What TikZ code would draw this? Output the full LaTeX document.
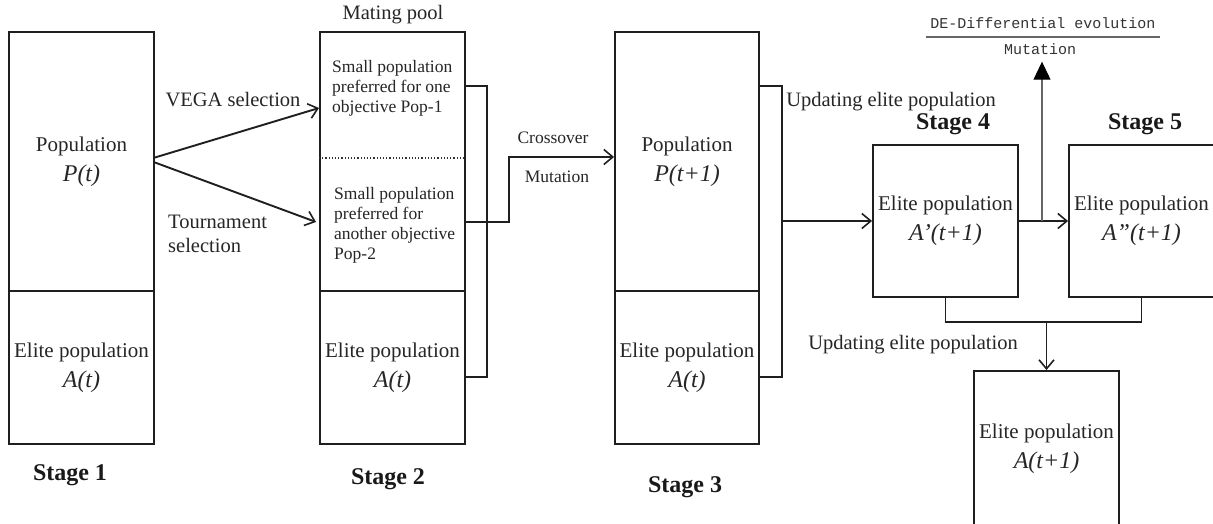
\documentclass[tikz,border=0pt]{standalone}
\usepackage{fontspec}
\setmainfont{Liberation Serif}
\newfontfamily\demono{Liberation Mono}
\usetikzlibrary{arrows.meta}
\newcommand\itpop[1]{{\fontsize{24}{24}\selectfont\itshape #1}}
\begin{document}
\begin{tikzpicture}[x=1pt,y=1pt,
  ink/.style={draw=black!88},
  box/.style={ink, line width=1.9pt, inner sep=0pt, align=center, text=black!85,
    font=\fontsize{21}{26}\selectfont},
  ln/.style={ink, line width=1.9pt},
  arr/.style={ink, line width=1.9pt, -{Straight Barb[length=9pt,width=15pt,line width=1.6pt]}},
  lab/.style={inner sep=0pt, text=black!85, font=\fontsize{20.5}{24}\selectfont},
  small/.style={inner sep=0pt, text=black!85, align=left, font=\fontsize{17.5}{20}\selectfont},
  stg/.style={inner sep=0pt, text=black!90, font=\bfseries\fontsize{24}{28}\selectfont},
  mono/.style={inner sep=0pt, text=black!80, font=\demono\fontsize{15}{18}\selectfont}]
\path[use as bounding box] (0,0) rectangle (1213,-524);
\clip (0,0) rectangle (1213,-524);
\fill[white] (0,0) rectangle (1213,-524);

% Stage 1
\node[box, minimum width=145, minimum height=259] (s1p) at (81.5,-161.5) {Population\\[4pt]\itpop{P(t)}};
\node[box, minimum width=145, minimum height=153] (s1e) at (81.5,-367.5) {Elite population\\[4pt]\itpop{A(t)}};
\node[stg] (st1) at (70,-475) {Stage 1};

% Stage 2
\node[lab] (mp) at (393,-15) {Mating pool};
\node[box, minimum width=145, minimum height=259] (s2p) at (392.5,-161.5) {};
\node[box, minimum width=145, minimum height=153] (s2e) at (392.5,-367.5) {Elite population\\[4pt]\itpop{A(t)}};
\draw[dotted, line width=1.2pt, black!80] ([yshift=3.5pt]s2p.west) -- ([yshift=3.5pt]s2p.east);
\node[small, anchor=west] (s2a) at (332,-88) {Small population\\preferred for one\\objective Pop-1};
\node[small, anchor=west] (s2b) at (334,-225) {Small population\\preferred for\\another objective\\Pop-2};
\node[stg] (st2) at (388,-479) {Stage 2};

% selections
\draw[arr] ([yshift=4pt]s1p.east) -- ([yshift=53.5pt]s2p.west);
\draw[arr] ([yshift=-1pt]s1p.east) -- ([xshift=-3pt,yshift=-60.5pt]s2p.west);
\node[lab] (vega) at (233,-100) {VEGA selection};
\node[lab, align=left, anchor=west] (tour) at (168,-233.5) {Tournament\\selection};

% Stage 3
\node[box, minimum width=144, minimum height=259] (s3p) at (687,-161.5) {Population\\[4pt]\itpop{P(t+1)}};
\node[box, minimum width=144, minimum height=153] (s3e) at (687,-367.5) {Elite population\\[4pt]\itpop{A(t)}};
\node[stg] (st3) at (685,-487) {Stage 3};

% Stage 2 bracket and crossover
\draw[ln] ([yshift=75.5pt]s2p.east) -- ++(21,0) |- ([yshift=-9.5pt]s2e.east);
\draw[arr] ([yshift=-60.5pt]s2p.east) -- ++(43,0) |- ([yshift=4.5pt]s3p.west);
\node[small] (cro) at (553,-138) {Crossover};
\node[small] (mu1) at (557,-177) {Mutation};

% Stage 3 bracket
\draw[ln] ([yshift=75.5pt]s3p.east) -- ++(22,0) |- ([yshift=-9.5pt]s3e.east);
\coordinate (m3) at (781,-221);
\node[lab] (up1) at (891,-102) {Updating elite population};

% Stage 4 and 5
\node[box, minimum width=145, minimum height=152] (s4) at (945.5,-221) {Elite population\\[4pt]\itpop{A'(t+1)}};
\node[box, minimum width=145, minimum height=152] (s5) at (1141.5,-221) {Elite population\\[4pt]\itpop{A''(t+1)}};
\node[stg] (st4) at (953,-124) {Stage 4};
\node[stg] (st5) at (1145,-124) {Stage 5};
\draw[arr] (m3) -- (s4.west);
\draw[arr] (s4.east) -- (s5.west);

% DE mutation
\node[mono] (de) at (1043,-23) {DE-Differential evolution};
\node[mono] (mu2) at (1040,-49) {Mutation};
\draw[black!60, line width=1.5pt] (926,-37) -- (1160,-37);
\coordinate (br) at (1042,-221);
\draw[black!60, line width=1.1pt, -{Triangle[length=18pt,width=17pt,color=black]}] (br) -- ([yshift=-7pt]mu2.south -| br);

% final
\node[box, minimum width=145, minimum height=156] (fin) at (1046.5,-449) {Elite population\\[4pt]\itpop{A(t+1)}};
\draw[ln] (s4.south) -- ++(0,-24) -| (s5.south);
\coordinate (jn) at (1046.5,-321);
\draw[arr] (jn) -- (fin.north);
\node[lab] (up2) at (913,-345) {Updating elite population};
\end{tikzpicture}
\end{document}
